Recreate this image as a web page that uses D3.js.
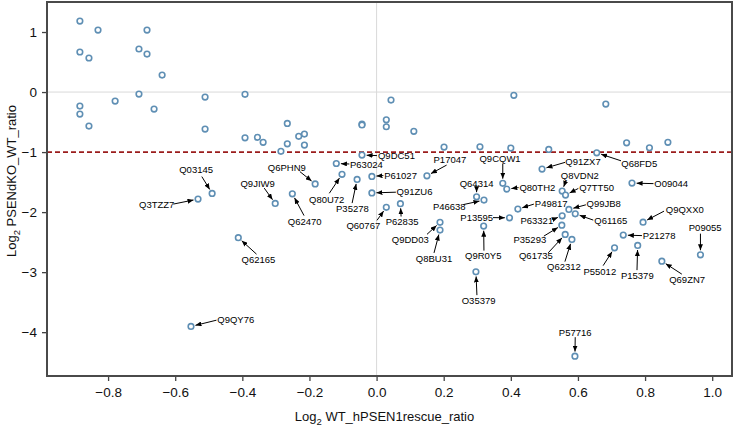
<!DOCTYPE html>
<html><head><meta charset="utf-8">
<script src="https://cdn.jsdelivr.net/npm/d3@7"></script>
<style>body{margin:0;background:#fff}svg{display:block;font-family:Arial,"Liberation Sans",Helvetica,sans-serif}</style>
</head><body><svg id="c" width="737" height="430"></svg>
<script>
// ---------- data ----------
const bgX = [-0.884,-0.830,-0.884,-0.857,-0.884,-0.884,-0.857,-0.779,-0.708,-0.684,-0.684,-0.639,-0.708,-0.663,-0.511,-0.511,-0.392,-0.392,0.043,-0.266,-0.0435,-0.0435,0.029,0.029,0.111,-0.355,-0.338,-0.232,-0.215,-0.266,-0.215,-0.285,0.201,0.308,0.409,0.683,0.400,0.513,0.745,0.813,0.868];
const bgY = [1.183,1.033,0.667,0.567,-0.233,-0.367,-0.567,-0.150,0.717,1.033,0.633,0.283,-0.033,-0.283,-0.083,-0.617,-0.038,-0.762,-0.133,-0.522,-0.535,-0.548,-0.462,-0.578,-0.655,-0.755,-0.838,-0.738,-0.700,-0.862,-0.883,-0.988,-0.917,-0.912,-0.055,-0.200,-0.933,-0.955,-0.845,-0.928,-0.838];

const labIds = ["Q9DC51","P63024","Q6PHN9","Q80U72","P35278","P61027","Q91ZU6","Q60767","P62835","Q9DD03","Q8BU31","Q9JIW9","Q62470","Q62165","P17047","Q64314","P46638","P13595","Q9CQW1","Q80TH2","Q91ZX7","Q8VDN2","Q7TT50","Q68FD5","O09044","P49817","Q99JB8","Q61165","P63321","P35293","Q61735","Q62312","Q9R0Y5","O35379","Q9QXX0","P21278","P55012","P15379","P09055","Q69ZN7","P57716","Q03145","Q3TZZ7","Q9QY76"];
const labX = [-0.0435,-0.120,-0.183,-0.103,-0.058,-0.014,-0.014,0.029,0.071,0.189,0.189,-0.302,-0.251,-0.412,0.150,0.298,0.320,0.396,0.376,0.388,0.493,0.553,0.563,0.656,0.761,0.421,0.573,0.592,0.553,0.552,0.562,0.582,0.319,0.296,0.794,0.735,0.709,0.778,0.965,0.850,0.591,-0.490,-0.532,-0.553];
const labY = [-1.050,-1.190,-1.530,-1.370,-1.455,-1.405,-1.680,-1.920,-1.860,-2.170,-2.300,-1.855,-1.695,-2.425,-1.395,-1.745,-1.800,-2.095,-1.520,-1.617,-1.283,-1.650,-1.717,-1.012,-1.517,-1.950,-1.955,-2.028,-2.062,-2.217,-2.372,-2.455,-2.233,-2.995,-2.167,-2.383,-2.595,-2.555,-2.712,-2.817,-4.400,-1.688,-1.783,-3.905];

const xTicks = [-0.8,-0.6,-0.4,-0.2,0.0,0.2,0.4,0.6,0.8,1.0];
const yTicks = [-4,-3,-2,-1,0,1];
const cutoff = -1;
const xTitle = ["Log","2"," WT_hPSEN1rescue_ratio"];
const yTitle = ["Log","2"," PSENdKO_WT_ratio"];

// ---------- layout (label offsets in px relative to point: text dx, dy, anchor, arrow tail dx, dy) ----------
const layout = {
 Q9DC51:[16,0.7,"start",15,0.5], P63024:[13.7,0.7,"start",13,0.5], Q6PHN9:[-28.3,-16,"middle",-15.3,-12.3],
 Q80U72:[-15.3,25,"middle",-12.7,19], P35278:[-4.7,29.7,"middle",-5,23.7], P61027:[12.3,-1,"start",11.5,-0.8],
 Q91ZU6:[24.7,-1,"start",24,-0.7], Q60767:[-23,18,"middle",-9.3,13], P62835:[1.7,18.3,"middle",0.7,12.8],
 Q9DD03:[-29.7,17,"middle",-13,12], Q8BU31:[-6,28.3,"middle",-6,22.8], Q9JIW9:[-17.6,-19.3,"middle",-11,-15.3],
 Q62470:[12.4,27.6,"middle",11.7,21.8], Q62165:[20.2,22.2,"middle",18.2,16.5], P17047:[23,-15.7,"middle",19.7,-10.7],
 Q64314:[0,-13.4,"middle",0,-8.7], P46638:[-34.7,7,"middle",-20.7,4.5], P13595:[-32.8,-0.2,"middle",-16.5,-0.2],
 Q9CQW1:[-2.7,-24.6,"middle",0,-19.8], Q80TH2:[12.6,-1.7,"start",11.8,-1.5], Q91ZX7:[23.3,-7.7,"start",23,-6.7],
 Q8VDN2:[17.7,-15.7,"middle",3.7,-10.5], Q7TT50:[13.6,-7.7,"start",12.8,-6.7], Q68FD5:[24.6,10.6,"start",24.3,8],
 O09044:[22.3,0.7,"start",21.5,0.5], P49817:[17,-5.7,"start",16,-5], Q99JB8:[17.7,-6,"start",17,-4.6],
 Q61165:[19,7,"start",18,6.3], P63321:[-9,4.6,"end",-7.5,2.8], P35293:[-32,15,"middle",-18,11],
 Q61735:[-29.3,21.7,"middle",-17,18.4], Q62312:[-8,27.4,"middle",-7,22.2], Q9R0Y5:[-0.4,30,"middle",0.3,24.5],
 O35379:[2.7,28.6,"middle",1,23.3], Q9QXX0:[22.7,-12,"start",21,-11], P21278:[19.4,1,"start",18.7,0.5],
 P55012:[-14.7,24,"middle",-11.4,17.8], P15379:[-0.4,30,"middle",-0.7,24.7], P09055:[4.7,-27.4,"middle",0,-21.2],
 Q69ZN7:[25.3,18.7,"middle",20,13], P57716:[0.3,-23.7,"middle",0.3,-19], Q03145:[-16,-23.3,"middle",-10.3,-16.8],
 Q3TZZ7:[-41.3,6,"middle",-24.7,5], Q9QY76:[26.3,-6.3,"start",25.5,-6.3]
};

const svg = d3.select("#c");
const L = 47, R = 732, T = 2, B = 376;
const x = d3.scaleLinear().domain([-0.982, 1.059]).range([L, R]);
const y = d3.scaleLinear().domain([-4.73, 1.5]).range([B, T]);

// grid lines at 0
svg.append("line").attr("x1", x(0)).attr("x2", x(0)).attr("y1", T).attr("y2", B).attr("stroke", "#d9d9d9").attr("stroke-width", 1);
svg.append("line").attr("x1", L).attr("x2", R).attr("y1", y(0)).attr("y2", y(0)).attr("stroke", "#d9d9d9").attr("stroke-width", 1);

// cutoff
svg.append("line").attr("x1", L).attr("x2", R).attr("y1", y(cutoff)).attr("y2", y(cutoff))
  .attr("stroke", "#9b1c1c").attr("stroke-width", 1.6).attr("stroke-dasharray", "5,3");

// axes
const xa = svg.append("g").attr("transform", `translate(0,${B})`)
  .call(d3.axisBottom(x).tickValues(xTicks).tickFormat(d3.format(".1f")).tickSize(5).tickPadding(6));
const ya = svg.append("g").attr("transform", `translate(${L},0)`)
  .call(d3.axisLeft(y).tickValues(yTicks).tickFormat(d3.format("d")).tickSize(5).tickPadding(5));
[xa, ya].forEach(g => {
  g.select(".domain").remove();
  g.selectAll(".tick line").attr("stroke", "#444").attr("stroke-width", 1.3);
  g.selectAll(".tick text").attr("fill", "#111").style("font-size", "13.5px").style("font-family", "Arial, 'Liberation Sans', sans-serif");
});

// frame
svg.append("rect").attr("x", L).attr("y", T).attr("width", R - L).attr("height", B - T)
  .attr("fill", "none").attr("stroke", "#4a4a4a").attr("stroke-width", 2);

// titles
function title(parts, g) {
  const t = g.append("text").attr("text-anchor", "middle").attr("fill", "#111").style("font-size", "13px");
  t.append("tspan").text(parts[0]);
  t.append("tspan").attr("dy", 4).style("font-size", "9.5px").text(parts[1]);
  t.append("tspan").attr("dy", -4).text(parts[2]);
  return t;
}
title(xTitle, svg.append("g").attr("transform", `translate(${(L + R) / 2 - 5},421)`));
title(yTitle, svg.append("g").attr("transform", `translate(16,${(T + B) / 2 - 8}) rotate(-90)`));

// arrow marker
svg.append("defs").append("marker").attr("id", "ah").attr("markerUnits", "userSpaceOnUse")
  .attr("markerWidth", 6).attr("markerHeight", 5).attr("refX", 6).attr("refY", 2.5).attr("orient", "auto")
  .append("path").attr("d", "M0,0 L6,2.5 L0,5 Z").attr("fill", "#000");

const circStroke = "#5f8fb4";
const all = bgX.map((v, i) => ({x: v, y: bgY[i]}));
const labs = labIds.map((id, i) => ({id, x: labX[i], y: labY[i]}));

// annotations
const ann = svg.append("g");
labs.forEach(d => {
  const [tdx, tdy, anc, adx, ady] = layout[d.id];
  const px = x(d.x), py = y(d.y);
  const ax = px + adx, ay = py + ady;
  const len = Math.hypot(px - ax, py - ay);
  const ux = (px - ax) / len, uy = (py - ay) / len;
  const ex = px - ux * 4.6, ey = py - uy * 4.6;
  ann.append("line").attr("x1", ax).attr("y1", ay).attr("x2", ex).attr("y2", ey)
    .attr("stroke", "#000").attr("stroke-width", 1).attr("marker-end", "url(#ah)");
  ann.append("text").attr("x", px + tdx).attr("y", py + tdy).attr("dy", "0.35em")
    .attr("text-anchor", anc).attr("fill", "#000").style("font-size", "9.5px").text(d.id);
});

// points
svg.append("g").selectAll("circle").data(all.concat(labs)).join("circle")
  .attr("cx", d => x(d.x)).attr("cy", d => y(d.y)).attr("r", 2.8)
  .attr("fill", "#fff").attr("stroke", circStroke).attr("stroke-width", 1.6);
</script></body></html>
